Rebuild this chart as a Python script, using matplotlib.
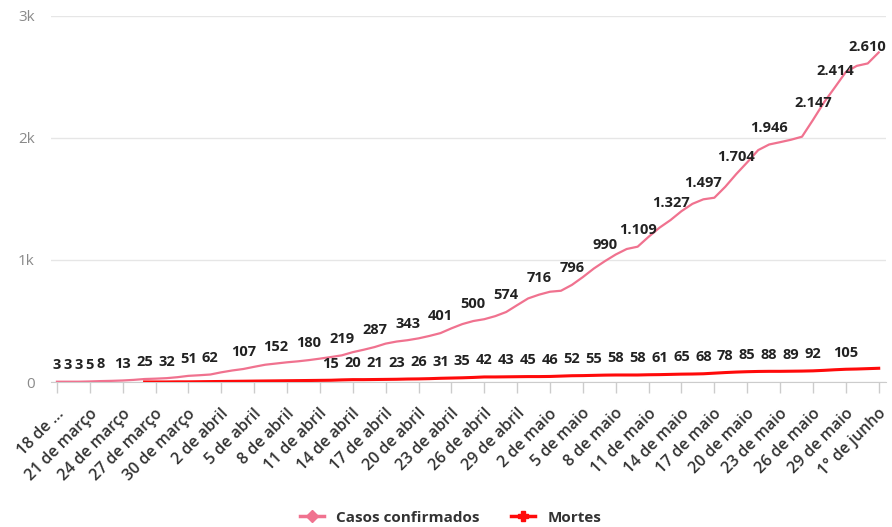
import numpy as np
import matplotlib.pyplot as plt
from matplotlib.lines import Line2D
from matplotlib.transforms import ScaledTranslation

plt.rcParams['font.family'] = ['Open Sans', 'DejaVu Sans']

# Dados (18 de março a 1° de junho, diário)
casos = [3, 3, 3, 5, 8, 10, 13, 18, 25, 28,
         32, 40, 51, 56, 62, 80, 95, 107, 125, 142,
         152, 162, 170, 180, 192, 205, 219, 245, 265, 287,
         315, 332, 343, 358, 378, 401, 440, 475, 500, 515,
         540, 574, 630, 685, 716, 740, 748, 796, 860, 930,
         990, 1045, 1090, 1109, 1190, 1265, 1327, 1400, 1460, 1497,
         1510, 1600, 1704, 1800, 1900, 1946, 1965, 1985, 2010, 2147,
         2290, 2414, 2540, 2590, 2610, 2700]

mortes = [None] * 8 + [1, 1,
          1, 2, 2, 3, 4, 5, 6, 7, 8, 9,
          10, 11, 12, 13, 14, 15, 18, 20, 20, 21,
          22, 23, 25, 26, 28, 31, 33, 35, 38, 42,
          42, 43, 44, 45, 45, 46, 49, 52, 53, 55,
          57, 58, 58, 58, 60, 61, 63, 65, 66, 68,
          73, 78, 82, 85, 87, 88, 88, 89, 90, 92,
          96, 101, 105, 107, 110, 113]

# dias com rótulo visível
rot_casos = [0, 1, 2, 3, 4, 6, 8, 10, 12, 14, 17, 20, 23, 26, 29, 32, 35,
             38, 41, 44, 47, 50, 53, 56, 59, 62, 65, 69, 71, 74]
rot_mortes = [25, 27, 29, 31, 33, 35, 37, 39, 41, 43, 45, 47, 49, 51, 53,
              55, 57, 59, 61, 63, 65, 67, 69, 72]

datas = ["18 de ...", "21 de março", "24 de março", "27 de março", "30 de março",
         "2 de abril", "5 de abril", "8 de abril", "11 de abril", "14 de abril",
         "17 de abril", "20 de abril", "23 de abril", "26 de abril", "29 de abril",
         "2 de maio", "5 de maio", "8 de maio", "11 de maio", "14 de maio",
         "17 de maio", "20 de maio", "23 de maio", "26 de maio", "29 de maio",
         "1° de junho"]

cor_casos = '#f0728f'
cor_mortes = '#ff0a0a'

x = np.arange(len(casos))
m = np.array([np.nan if v is None else v for v in mortes], dtype=float)

fig = plt.figure(figsize=(8.92, 5.27), dpi=100)
ax = fig.add_axes([0.0577, 0.275, 0.936, 0.695])

ax.plot(x, casos, color=cor_casos, lw=1.6, zorder=3)
ax.plot(x, m, color=cor_mortes, lw=2.2, zorder=4)

def fmt(v):
    return f"{v:,}".replace(",", ".")

for i in rot_casos:
    ax.annotate(fmt(casos[i]), (x[i], casos[i]), xytext=(0, 12), textcoords='offset points',
                ha='center', va='center', fontsize=10.5, fontweight='bold', color='#222222')
for i in rot_mortes:
    ax.annotate(fmt(int(m[i])), (x[i], m[i]), xytext=(0, 12), textcoords='offset points',
                ha='center', va='center', fontsize=10.5, fontweight='bold', color='#222222')

ax.set_xlim(-0.5, 75.7)
ax.set_ylim(0, 3000)
ax.set_yticks([0, 1000, 2000, 3000])
ax.set_yticklabels(['0', '1k', '2k', '3k'], color='#8a8a8a', fontsize=11)
ax.tick_params(axis='y', length=0, pad=12)
ax.grid(axis='y', color='#e6e6e6', lw=1)
ax.set_axisbelow(True)

ax.set_xticks(x[::3])
ax.set_xticklabels(datas, rotation=45, ha='right', va='center', rotation_mode='anchor',
                   fontsize=11.5, fontweight='semibold', color='#333333')
ax.tick_params(axis='x', length=8, color='#cccccc', width=1, pad=13)
desl = ScaledTranslation(5 / 100, 0, fig.dpi_scale_trans)
for lbl in ax.get_xticklabels():
    lbl.set_transform(lbl.get_transform() + desl)

for s in ['top', 'right', 'left']:
    ax.spines[s].set_visible(False)
ax.spines['bottom'].set_color('#cccccc')

handles = [Line2D([], [], color=cor_casos, lw=2.5, marker='D', markersize=6),
           Line2D([], [], color=cor_mortes, lw=2.5, marker='P', markersize=7)]
leg = fig.legend(handles, ['Casos confirmados', 'Mortes'], loc='center',
                 bbox_to_anchor=(0.505, 0.018), ncol=2, frameon=False,
                 handlelength=1.6, columnspacing=2.0,
                 prop={'weight': 'bold', 'size': 11})
for t in leg.get_texts():
    t.set_color('#333333')

fig.savefig('out.png', dpi=100)
